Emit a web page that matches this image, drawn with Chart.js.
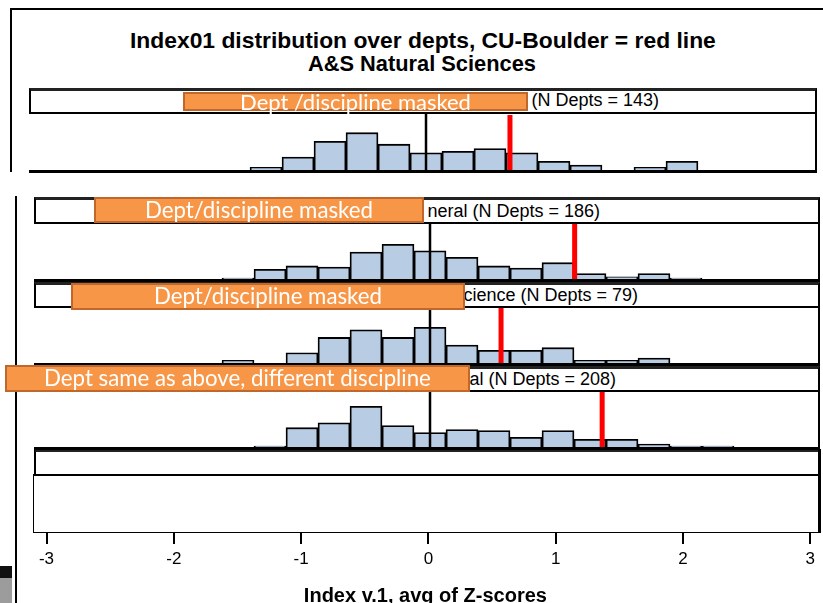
<!DOCTYPE html>
<html>
<head>
<meta charset="utf-8">
<script src="https://cdn.jsdelivr.net/npm/chart.js"></script>
<style>
html,body{margin:0;padding:0;background:#fff;overflow:hidden;width:823px;height:603px;}
#root{position:relative;width:823px;height:603px;overflow:hidden;background:#fff;}
.box{position:absolute;box-sizing:border-box;}
.txt{position:absolute;white-space:nowrap;color:#000;margin:0;padding:0;}
.mask{position:absolute;box-sizing:border-box;background:#F79646;border:2px solid #C0682C;color:#fff;
  font-family:Lato,"Open Sans",sans-serif;display:flex;align-items:center;justify-content:center;white-space:nowrap;z-index:20;line-height:1;}
canvas{position:absolute;display:block;}
</style>
</head>
<body>
<div id="root"></div>
<script>
// ---------------- DATA ----------------
const binCenters = [-1.5, -1.25, -1, -0.75, -0.5, -0.25, 0, 0.25, 0.5, 0.75, 1, 1.25, 1.5, 1.75, 2, 2.25];
const pctPanel1 = [0, 1.3, 6.3, 14.0, 18.2, 12.6, 8.4, 9.1, 10.5, 8.4, 4.2, 2.4, 0, 1.3, 4.2, 0];
const pctPanel2 = [0.5, 4.8, 6.5, 5.9, 13.4, 17.2, 14.0, 10.8, 6.5, 5.4, 8.1, 2.7, 1.1, 2.7, 0.5, 0];
const pctPanel3 = [1.3, 0, 5.1, 12.7, 16.5, 12.7, 17.7, 8.9, 6.3, 6.3, 7.6, 1.3, 1.3, 2.5, 0, 0];
const pctPanel4 = [0, 0.5, 9.6, 12.0, 20.2, 10.6, 7.2, 8.7, 8.2, 4.8, 8.2, 3.8, 3.8, 1.4, 0.5, 0.5];
const nDepts = [143, 186, 79, 208];
const cuBoulderValue = [0.656, 1.13, 0.555, 1.345];
const referenceValue = 0;
const stripFragments = ["", "neral ", "cience ", "al "];
const maskLabels = ["Dept /discipline masked", "Dept/discipline masked", "Dept/discipline masked", "Dept same as above, different discipline"];
const tickValues = [-3, -2, -1, 0, 1, 2, 3];
const titleText = "Index01 distribution over depts, CU-Boulder = red line";
const subtitleText = "A&S Natural Sciences";
const xAxisTitle = "Index v.1, avg of Z-scores";

// ---------------- LAYOUT / STYLE ----------------
const Y_MAX = 27.8;
const BAR_FILL = '#B8CCE4';
const root = document.getElementById('root');
const SANS = '"Liberation Sans", Arial, sans-serif';
const mctx = document.createElement('canvas').getContext('2d');
function fitSize(text, weight, family, width) {
  mctx.font = weight + ' 100px ' + family;
  return 100 * width / mctx.measureText(text).width;
}
function box(l, t, w, h, css) {
  const d = document.createElement('div');
  d.className = 'box';
  Object.assign(d.style, {left: l + 'px', top: t + 'px', width: w + 'px', height: h + 'px'}, css || {});
  root.appendChild(d);
  return d;
}
function text(str, x, baseline, size, weight, anchor, z) {
  const d = document.createElement('div');
  d.className = 'txt';
  d.textContent = str;
  d.style.fontFamily = SANS;
  d.style.fontWeight = weight;
  d.style.fontSize = size + 'px';
  d.style.lineHeight = size + 'px';
  d.style.top = (baseline - 0.8465 * size) + 'px';
  if (anchor === 'right') d.style.right = (823 - x) + 'px'; else d.style.left = x + 'px';
  if (z) d.style.zIndex = z;
  root.appendChild(d);
  return d;
}
function mask(str, l, t, r, b, textWidth) {
  const d = document.createElement('div');
  d.className = 'mask';
  Object.assign(d.style, {left: l + 'px', top: t + 'px', width: (r - l) + 'px', height: (b - t) + 'px'});
  d.style.fontSize = fitSize(str, 'normal', 'Lato', textWidth) + 'px';
  d.textContent = str;
  root.appendChild(d);
}

// ---- titles ----
text(titleText, 130, 48, fitSize(titleText, 'bold', SANS, 586), 'bold');
text(subtitleText, 308, 71.5, fitSize(subtitleText, 'bold', SANS, 228), 'bold');

// ---- screenshot frames ----
box(10, 8, 813, 2, {background: '#000'});
box(10, 8, 2, 164, {background: '#000'});
box(15, 196, 2, 407, {background: '#000'});
box(0, 566, 12, 12, {background: '#111'});
box(0, 578, 12, 25, {background: '#9c9c9c'});

// ---- marker plugin (reference line + CU-Boulder line) ----
const markerPlugin = {
  id: 'markers',
  afterDatasetsDraw(chart, args, opts) {
    const {ctx, chartArea, scales} = chart;
    (opts.lines || []).forEach(l => {
      const px = scales.x.getPixelForValue(l.value);
      ctx.save();
      ctx.strokeStyle = l.color;
      ctx.lineWidth = l.width;
      ctx.beginPath();
      ctx.moveTo(px, chartArea.top + (l.inset || 0));
      ctx.lineTo(px, chartArea.bottom);
      ctx.stroke();
      ctx.restore();
    });
  }
};

function makeCanvas(l, t, w, h) {
  const c = document.createElement('canvas');
  c.width = w; c.height = h;
  c.style.left = l + 'px'; c.style.top = t + 'px';
  c.style.width = w + 'px'; c.style.height = h + 'px';
  root.appendChild(c);
  return c;
}

function histPanel(cfg, pct, idx) {
  const c = makeCanvas(cfg.left, cfg.histTop, cfg.right - cfg.left, cfg.base - cfg.histTop);
  new Chart(c, {
    type: 'bar',
    data: {
      datasets: [{
        data: binCenters.map((b, i) => ({x: b, y: pct[i]})),
        backgroundColor: BAR_FILL,
        borderColor: '#000',
        borderWidth: 1.8,
        borderSkipped: 'start',
        barPercentage: 1,
        categoryPercentage: 1,
        clip: 4
      }]
    },
    options: {
      responsive: false, animation: false, devicePixelRatio: 1,
      layout: {padding: 0},
      plugins: {
        legend: {display: false}, tooltip: {enabled: false}, title: {display: false},
        markers: {lines: [
          {value: referenceValue, color: '#000', width: 2.5},
          {value: cuBoulderValue[idx], color: '#FF0000', width: 5, inset: cfg.redInset || 0}
        ]}
      },
      scales: {
        x: {type: 'linear', min: cfg.xmin, max: cfg.xmax, display: false, offset: false},
        y: {min: 0, max: Y_MAX, display: false}
      }
    },
    plugins: [markerPlugin]
  });
  box(cfg.left, cfg.stripTop, cfg.right - cfg.left, cfg.histTop - cfg.stripTop + 1,
      {border: '2px solid #000', borderTop: '3px solid #222', background: '#fff'});
  box(cfg.left, cfg.histTop, cfg.right - cfg.left, cfg.base - cfg.histTop + 3,
      {borderRight: '2px solid #000', borderBottom: '3px solid #000', zIndex: 5});
  text(stripFragments[idx] + '(N Depts = ' + nDepts[idx] + ')', cfg.textRight, cfg.textBase, 18, 'normal', 'right', 6);
}

const panels = [
  {left: 29, right: 817, stripTop: 88, histTop: 113, base: 170, xmin: -3.102, xmax: 3.055, textRight: 659, textBase: 106.5, redInset: 2},
  {left: 34, right: 820, stripTop: 197, histTop: 223, base: 279, xmin: -3.094, xmax: 3.047, textRight: 600, textBase: 217},
  {left: 34, right: 820, stripTop: 282, histTop: 307, base: 363, xmin: -3.094, xmax: 3.047, textRight: 638, textBase: 301.5},
  {left: 34, right: 820, stripTop: 366, histTop: 391, base: 447, xmin: -3.094, xmax: 3.047, textRight: 616, textBase: 385}
];
const pcts = [pctPanel1, pctPanel2, pctPanel3, pctPanel4];
panels.forEach((p, i) => histPanel(p, pcts[i], i));

// ---- empty bottom panel with x-axis ----
box(34, 449, 786, 27, {border: '2px solid #000', borderTop: '3px solid #222', background: '#fff'});
const axisCanvas = makeCanvas(34, 474, 786, 146);
new Chart(axisCanvas, {
  type: 'bar',
  data: {datasets: []},
  options: {
    responsive: false, animation: false, devicePixelRatio: 1,
    layout: {padding: 0},
    plugins: {legend: {display: false}, tooltip: {enabled: false}},
    scales: {
      x: {
        type: 'linear', min: -3.094, max: 3.047, position: 'bottom', offset: false,
        afterBuildTicks: s => { s.ticks = tickValues.map(v => ({value: v})); },
        afterFit: s => { s.height = 88; },
        border: {display: false},
        grid: {display: true, offset: false, drawOnChartArea: false, drawTicks: true, tickLength: 12, color: '#000', lineWidth: 2},
        ticks: {color: '#000', padding: 5, maxRotation: 0, autoSkip: false,
                font: {family: SANS, size: 17}, callback: v => String(v)},
        title: {display: true, text: xAxisTitle, color: '#000',
                font: {family: SANS, size: 20, weight: 'bold'}, padding: {top: 0, bottom: 12}}
      },
      y: {min: 0, max: Y_MAX, display: false}
    }
  }
});
box(33, 474, 788, 59, {border: '1.5px solid #000', zIndex: 5});
box(818, 449, 3, 84, {background: '#000', zIndex: 6});

// ---- masks ----
mask(maskLabels[0], 183, 92, 528, 111, 231);
mask(maskLabels[1], 94, 197, 424, 223, 228);
mask(maskLabels[2], 71, 283, 465, 310, 228);
mask(maskLabels[3], 5, 365, 470, 392, 387);
</script>
</body>
</html>
